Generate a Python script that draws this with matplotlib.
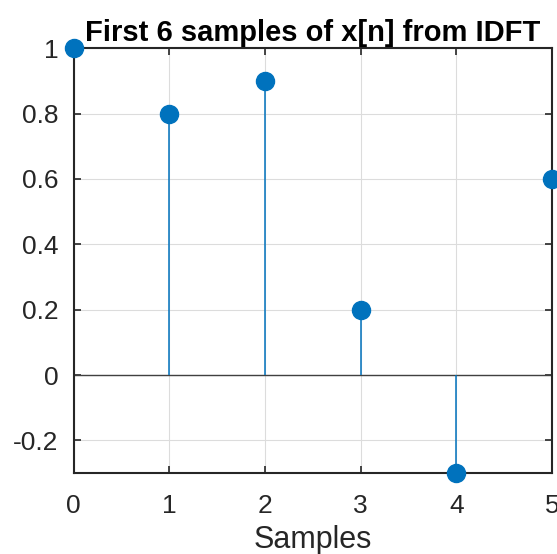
import numpy as np
import matplotlib.pyplot as plt

plt.rcParams['font.family'] = ['Liberation Sans', 'DejaVu Sans']

# data
n = [0, 1, 2, 3, 4, 5]
x = [1.0, 0.8, 0.9, 0.2, -0.3, 0.6]
yticks = [-0.2, 0, 0.2, 0.4, 0.6, 0.8, 1]
ytick_labels = ['-0.2', '0', '0.2', '0.4', '0.6', '0.8', '1']

fig = plt.figure(figsize=(5.57, 5.54), dpi=100)
ax = fig.add_axes([0.132, 0.146, 0.859, 0.767])

ax.grid(True, color='#dcdcdc', linewidth=0.8)
ax.set_axisbelow(True)
ax.axhline(0, color='#404040', linewidth=1, zorder=2)

ml, sl, bl = ax.stem(n, x, basefmt=' ')
plt.setp(sl, color='#0072BD', linewidth=1.1)
plt.setp(ml, color='#0072BD', markersize=13, clip_on=False, zorder=5)
sl.set_clip_on(False)

ax.set_xlim(0, 5)
ax.set_ylim(-0.3, 1)
ax.set_xticks(n)
ax.set_yticks(yticks)
ax.set_yticklabels(ytick_labels)
ax.tick_params(direction='in', top=True, right=True, labelsize=19,
               colors='#262626', length=5, width=1.2, pad=11)
ax.tick_params(axis='x', pad=15)
for s in ax.spines.values():
    s.set_color('#262626')
    s.set_linewidth(1.5)

ax.set_title('First 6 samples of x[n] from IDFT', fontsize=21,
             fontweight='bold', pad=5)
ax.set_xlabel('Samples', fontsize=22, color='#262626', labelpad=5)

fig.savefig('out.png', dpi=100)
